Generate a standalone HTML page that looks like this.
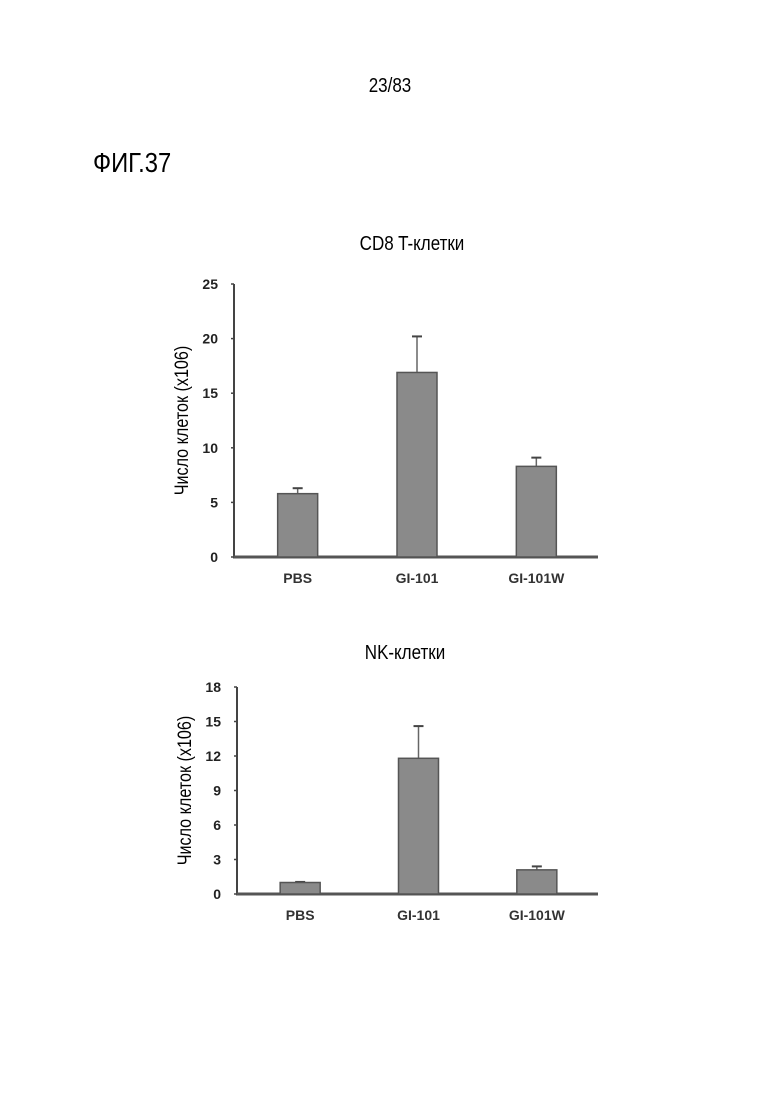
<!DOCTYPE html>
<html><head><meta charset="utf-8"><style>
html,body{margin:0;padding:0;background:#fff;}
svg{display:block;font-family:"Liberation Sans",sans-serif;}
</style></head><body>
<svg id="page" width="780" height="1103" viewBox="0 0 780 1103">
<text x="390" y="92" text-anchor="middle" font-size="20" transform="translate(390 0) scale(0.85 1) translate(-390 0)">23/83</text>
<text x="93" y="172" font-size="28" transform="translate(93 0) scale(0.85 1) translate(-93 0)">ФИГ.37</text>
<g id="chart1"></g>
<g id="chart2"></g>
</svg>
<script>
const categories = ["PBS", "GI-101", "GI-101W"];
const cd8Values = [5.8, 16.9, 8.3];
const cd8Errors = [0.5, 3.3, 0.8];
const cd8Ticks = [0, 5, 10, 15, 20, 25];
const nkValues = [1.0, 11.8, 2.1];
const nkErrors = [0.05, 2.8, 0.3];
const nkTicks = [0, 3, 6, 9, 12, 15, 18];

const NS = "http://www.w3.org/2000/svg";
function mk(tag, attrs, parent){const e=document.createElementNS(NS,tag);for(const k in attrs)e.setAttribute(k,attrs[k]);parent.appendChild(e);return e;}

function drawChart(g, cfg, values, errors, ticks, prefix){
  const ymax = ticks[ticks.length-1];
  const y = v => cfg.y0 - (v/ymax)*(cfg.y0-cfg.yTop);
  const bandStart = cfg.x0 + 6, bandW = (cfg.xEnd - cfg.x0 - 6)/categories.length;
  const xc = i => bandStart + bandW*(i+0.5) - 2;
  const bw = 40;
  let t = mk("text",{x:cfg.titleX,y:cfg.titleY,"text-anchor":"middle","font-size":20,transform:`translate(${cfg.titleX} 0) scale(0.85 1) translate(${-cfg.titleX} 0)`},g);
  t.textContent = cfg.title;
  
  
  let yt = mk("text",{x:0,y:0,"text-anchor":"middle","font-size":19,transform:`translate(${cfg.x0-46} ${(cfg.y0+cfg.yTop)/2}) rotate(-90) scale(0.85 1)`},g);
  yt.textContent = "Число клеток (x106)";
  
  
  let ax = mk("line",{x1:cfg.x0,y1:cfg.yTop,x2:cfg.x0,y2:cfg.y0+1,stroke:"#444","stroke-width":2},g);
  
  
  let xa = mk("line",{x1:cfg.x0-1,y1:cfg.y0,x2:cfg.xEnd,y2:cfg.y0,stroke:"#555","stroke-width":3},g);
  
  
  ticks.forEach(v=>{
    let tl = mk("text",{x:cfg.x0-16,y:y(v)+5,"text-anchor":"end","font-size":14,"font-weight":"bold",fill:"#222"},g);
    tl.textContent = v;
    
    
    let tk = mk("line",{x1:cfg.x0-3,y1:y(v),x2:cfg.x0,y2:y(v),stroke:"#444","stroke-width":1.5},g);
    
    
  });
  values.forEach((v,i)=>{
    const cx = xc(i);
    let e = mk("line",{x1:cx,y1:y(v+errors[i]),x2:cx,y2:y(v),stroke:"#666","stroke-width":1.5},g);
    
    
    let cap = mk("line",{x1:cx-5,y1:y(v+errors[i]),x2:cx+5,y2:y(v+errors[i]),stroke:"#444","stroke-width":2},g);
    
    
    let b = mk("rect",{x:cx-bw/2,y:y(v),width:bw,height:cfg.y0-y(v),fill:"#8a8a8a",stroke:"#555","stroke-width":1.5},g);
    
    
    let l = mk("text",{x:cx,y:cfg.y0+26,"text-anchor":"middle","font-size":14,"font-weight":"bold",fill:"#333"},g);
    l.textContent = categories[i];
    
    
  });
}
drawChart(document.getElementById('chart1'),{x0:234,xEnd:598,y0:557,yTop:284,title:"CD8 T-клетки",titleX:412,titleY:250},cd8Values,cd8Errors,cd8Ticks,'cd8');
drawChart(document.getElementById('chart2'),{x0:237,xEnd:598,y0:894,yTop:687,title:"NK-клетки",titleX:405,titleY:659},nkValues,nkErrors,nkTicks,'nk');
</script>
</body></html>
